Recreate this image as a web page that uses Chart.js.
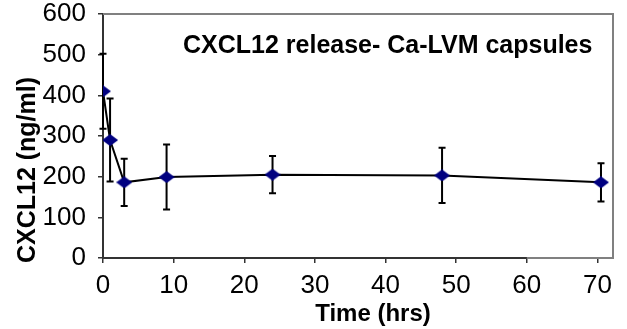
<!DOCTYPE html>
<html>
<head>
<meta charset="utf-8">
<script src="https://cdn.jsdelivr.net/npm/chart.js@4/dist/chart.umd.min.js"></script>
<style>
html,body{margin:0;padding:0;background:#fff;}
#wrap{width:627px;height:329px;}
</style>
</head>
<body>
<div id="wrap"><canvas id="c" width="627" height="329"></canvas></div>
<script>
// ---- data ----
const timeHrs   = [0, 1, 3, 9, 24, 48, 70.5];
const cxcl12    = [410, 290, 186, 199, 205, 203, 186];
const errorSD   = [92, 102, 58, 80, 46, 68, 47];
const xTicks    = [0, 10, 20, 30, 40, 50, 60, 70];
const yTicks    = [0, 100, 200, 300, 400, 500, 600];
const chartTitle = 'CXCL12 release- Ca-LVM capsules';
const xTitle = 'Time (hrs)';
const yTitle = 'CXCL12 (ng/ml)';

// flattened diamond marker
function diamond(w, h, color) {
  const c = document.createElement('canvas');
  c.width = w; c.height = h;
  const g = c.getContext('2d');
  g.fillStyle = color;
  g.beginPath();
  g.moveTo(w/2, 0); g.lineTo(w, h/2); g.lineTo(w/2, h); g.lineTo(0, h/2);
  g.closePath(); g.fill();
  return c;
}
const marker = diamond(16, 12, '#000080');

const FONT = "'Liberation Sans', Arial, sans-serif";
Chart.defaults.font.family = FONT;
Chart.defaults.color = '#000';

const decor = {
  id: 'decor',
  beforeDatasetsDraw(chart) {
    const {ctx, chartArea: a, scales: {x, y}} = chart;
    ctx.save();
    // plot border (gray)
    ctx.strokeStyle = '#808080';
    ctx.lineWidth = 2;
    ctx.beginPath();
    ctx.moveTo(a.left, a.top); ctx.lineTo(a.right, a.top); ctx.lineTo(a.right, a.bottom);
    ctx.lineTo(x.getPixelForValue(60), a.bottom);
    ctx.stroke();
    // error bars
    ctx.strokeStyle = '#000';
    ctx.lineWidth = 2;
    timeHrs.forEach((t, i) => {
      const px = x.getPixelForValue(t);
      const top = y.getPixelForValue(cxcl12[i] + errorSD[i]);
      const bot = y.getPixelForValue(cxcl12[i] - errorSD[i]);
      ctx.beginPath();
      ctx.moveTo(px, top); ctx.lineTo(px, bot);
      ctx.moveTo(px - 3.5, top); ctx.lineTo(px + 3.5, top);
      ctx.moveTo(px - 3.5, bot); ctx.lineTo(px + 3.5, bot);
      ctx.stroke();
    });
    ctx.restore();
  },
  afterDraw(chart) {
    const {ctx} = chart;
    ctx.save();
    ctx.fillStyle = '#000';
    // chart title inside plot
    ctx.font = "bold 25px " + FONT;
    ctx.textBaseline = 'alphabetic';
    ctx.textAlign = 'left';
    ctx.fillText(chartTitle, 183, 53);
    // x axis title
    ctx.font = "bold 24px " + FONT;
    ctx.textAlign = 'center';
    ctx.textBaseline = 'middle';
    ctx.fillText(xTitle, 373, 314);
    // y axis title
    ctx.font = "bold 25px " + FONT;
    ctx.translate(28, 170);
    ctx.rotate(-Math.PI / 2);
    ctx.fillText(yTitle, 0, 0);
    ctx.restore();
  }
};

new Chart(document.getElementById('c'), {
  type: 'scatter',
  data: {
    datasets: [{
      data: timeHrs.map((t, i) => ({x: t, y: cxcl12[i]})),
      showLine: true,
      borderColor: '#000',
      borderWidth: 2,
      pointStyle: marker,
      pointRadius: 6,
      pointHoverRadius: 6,
      backgroundColor: '#000080',
      tension: 0
    }]
  },
  options: {
    responsive: false,
    animation: false,
    devicePixelRatio: 1,
    layout: {padding: {top: 0, right: 14, left: 0, bottom: 0}},
    plugins: {legend: {display: false}, tooltip: {enabled: false}},
    scales: {
      x: {
        type: 'linear',
        min: 0,
        max: 72.2,
        afterFit(s) { s.height = 71; s.paddingLeft = 0; s.paddingRight = 0; },
        afterBuildTicks(s) { s.ticks = xTicks.map(v => ({value: v})); },
        ticks: {font: {size: 26}, color: '#000', padding: 7, maxRotation: 0},
        grid: {display: true, drawOnChartArea: false, drawTicks: true, tickLength: 5, color: '#333', lineWidth: 1.5},
        border: {display: true, color: '#333', width: 2}
      },
      y: {
        type: 'linear',
        min: 0,
        max: 600,
        afterFit(s) { s.width = 103; s.paddingTop = 14; s.paddingBottom = 0; },
        afterBuildTicks(s) { s.ticks = yTicks.map(v => ({value: v})); },
        ticks: {font: {size: 26}, color: '#000', padding: 12},
        grid: {display: true, drawOnChartArea: false, drawTicks: true, tickLength: 5, color: '#333', lineWidth: 1.5},
        border: {display: true, color: '#333', width: 2}
      }
    }
  },
  plugins: [decor]
});
</script>
</body>
</html>
